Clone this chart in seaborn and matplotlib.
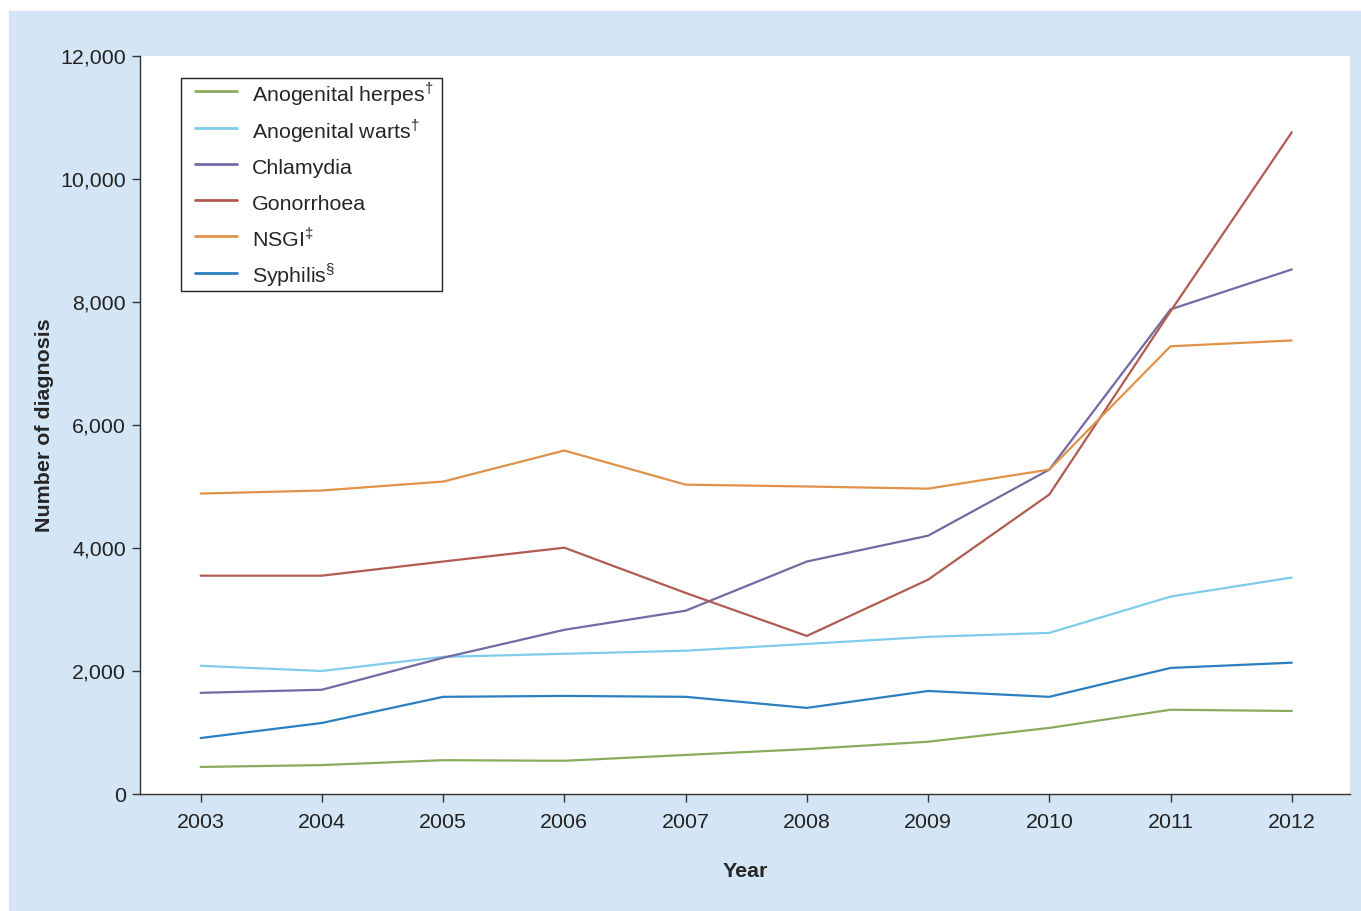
import pandas as pd
import matplotlib
matplotlib.use("Agg")
import matplotlib.pyplot as plt
import matplotlib.ticker as mticker
from matplotlib.patches import Rectangle
import seaborn as sns

sns.set_style("white")
plt.rcParams['font.family'] = ['Liberation Sans', 'DejaVu Sans']
plt.rcParams['mathtext.fontset'] = 'custom'
plt.rcParams['mathtext.rm'] = 'Liberation Sans'

years = [2003, 2004, 2005, 2006, 2007, 2008, 2009, 2010, 2011, 2012]
herpes = [440, 470, 550, 540, 635, 730, 850, 1075, 1370, 1350]
warts = [2085, 2000, 2230, 2280, 2330, 2440, 2555, 2620, 3210, 3520]
chlamydia = [1645, 1695, 2215, 2670, 2980, 3780, 4200, 5275, 7880, 8530]
gonorrhoea = [3550, 3550, 3780, 4005, 3270, 2570, 3485, 4870, 7850, 10760]
nsgi = [4885, 4935, 5080, 5585, 5030, 5000, 4965, 5275, 7280, 7375]
syphilis = [910, 1155, 1580, 1595, 1580, 1400, 1675, 1580, 2050, 2135]

names = [r'Anogenital herpes$^{\dagger}$', r'Anogenital warts$^{\dagger}$',
         'Chlamydia', 'Gonorrhoea', r'NSGI$^{\ddagger}$', r'Syphilis$^{\S}$']
series = [herpes, warts, chlamydia, gonorrhoea, nsgi, syphilis]
colors = ['#8aab5e', '#7fcbea', '#7569a3', '#b05c52', '#e0924a', '#2b7fbf']

rows = []
for name, vals in zip(names, series):
    for yr, v in zip(years, vals):
        rows.append({'Year': yr, 'Count': v, 'Disease': name})
df = pd.DataFrame(rows)

fs = 15.4
W, H = 1361, 911

fig = plt.figure(figsize=(W / 100, H / 100), dpi=100)
bg = Rectangle((9 / W, 0), 1 - 9 / W, 1 - 11 / H,
               transform=fig.transFigure, color='#d4e6f5', zorder=-10)
fig.add_artist(bg)
ax = fig.add_axes([140 / W, 117 / H, 1210 / W, 738 / H])
ax.set_facecolor('white')

sns.lineplot(data=df, x='Year', y='Count', hue='Disease', hue_order=names,
             palette=dict(zip(names, colors)), linewidth=1.6, ax=ax)

ax.set_xlim(2002.5, 2012.48)
ax.set_ylim(0, 12000)
ax.set_xticks(years)
ax.set_yticks(range(0, 12001, 2000))
ax.yaxis.set_major_formatter(mticker.FuncFormatter(lambda v, p: f'{int(v):,}'))
sns.despine(ax=ax)
for s in ['left', 'bottom']:
    ax.spines[s].set_color('#333333')
    ax.spines[s].set_linewidth(1.0)
ax.tick_params(axis='both', direction='out', length=6, width=1, color='#333333',
               labelsize=fs, labelcolor='#222222', left=True, bottom=True)
ax.tick_params(axis='x', pad=8)
ax.tick_params(axis='y', pad=4)

ax.set_xlabel('Year', fontsize=fs, fontweight='bold', labelpad=21.5)
ax.set_ylabel('Number of diagnosis', fontsize=fs, fontweight='bold', labelpad=4.5)

# legend box drawn separately so the padding can match the original
box = Rectangle((181 / W, (H - 291) / H), 261 / W, 213 / H, transform=fig.transFigure,
                facecolor='white', edgecolor='#222222', linewidth=1.0, zorder=4, clip_on=False)
ax.add_patch(box)

leg = ax.legend(loc='upper left', bbox_to_anchor=((195 - 140) / 1210, 1 - (80 - 56) / 738),
                fontsize=fs, frameon=False,
                handlelength=1.96, handleheight=1.58, handletextpad=0.7,
                labelspacing=0.41, borderpad=0, borderaxespad=0)
leg.set_zorder(5)
for line in leg.get_lines():
    line.set_linewidth(2)

fig.savefig('out.png', dpi=100)
